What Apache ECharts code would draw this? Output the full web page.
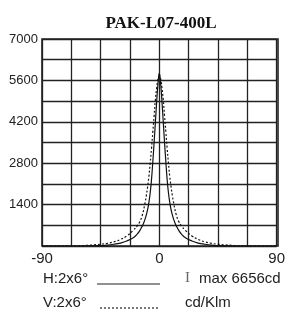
<!DOCTYPE html>
<html>
<head>
<meta charset="utf-8">
<script src="https://cdn.jsdelivr.net/npm/echarts@6/dist/echarts.min.js"></script>
<style>
html,body{margin:0;padding:0;background:#fff;}
#chart{width:288px;height:313px;}
</style>
</head>
<body>
<div id="chart"></div>
<script>
var titleText = 'PAK-L07-400L';
var angleH = [-90,-60,-45,-40,-35,-30,-25,-20,-17,-15,-13,-12,-11,-10,-9,-8,-7,-6,-5,-4,-3,-2,-1,0,1,2,3,4,5,6,7,8,9,10,11,12,13,15,17,20,25,30,35,40,45,60,90];
var valueH = [0,0,10,30,60,100,170,280,400,520,680,780,900,1050,1230,1480,1800,2250,2850,3500,4200,4900,5500,5850,5500,4900,4200,3500,2850,2250,1800,1480,1230,1050,900,780,680,520,400,280,170,100,60,30,10,0,0];
var angleV = [-90,-65,-60,-55,-50,-45,-40,-35,-30,-25,-20,-17,-15,-13,-11,-10,-9,-8,-7,-6,-5,-4,-3,-2,-1,0,1,2,3,4,5,6,7,8,9,10,11,13,15,17,20,25,30,35,40,45,50,55,60,65,90];
var valueV = [0,0,10,25,40,60,90,140,220,340,530,680,820,1050,1450,1700,2000,2350,2800,3300,3850,4400,4950,5350,5650,5750,5650,5350,4950,4400,3850,3300,2800,2350,2000,1700,1450,1050,820,680,530,340,220,140,90,60,40,25,10,0,0];
var yLabels = [1400,2800,4200,5600,7000];
var xLabels = [-90,0,90];

function pairs(a, v) {
    var res = [];
    for (var i = 0; i < a.length; i++) {
        res.push([a[i], v[i]]);
    }
    return res;
}

var chart = echarts.init(document.getElementById('chart'));
var option = {
    animation: false,
    backgroundColor: '#fff',
    title: {
        text: titleText,
        left: 156,
        textAlign: 'center',
        top: 10,
        textStyle: {
            fontFamily: 'Liberation Serif',
            fontWeight: 'bold',
            fontSize: 17,
            color: '#111'
        }
    },
    grid: {
        left: 42,
        right: 10,
        top: 39,
        bottom: 67
    },
    xAxis: {
        type: 'value',
        min: -90,
        max: 90,
        interval: 22.5,
        axisLine: {show: false},
        axisTick: {show: false},
        splitLine: {lineStyle: {color: '#222', width: 1.3}},
        axisLabel: {
            margin: 5,
            fontFamily: 'Liberation Sans',
            fontSize: 15,
            color: '#222',
            formatter: function (v) {
                return xLabels.indexOf(v) >= 0 ? String(v) : '';
            }
        }
    },
    yAxis: {
        type: 'value',
        min: 0,
        max: 7000,
        interval: 700,
        axisLine: {show: false},
        axisTick: {show: false},
        splitLine: {lineStyle: {color: '#222', width: 1.3}},
        axisLabel: {
            margin: 4,
            fontFamily: 'Liberation Sans',
            fontSize: 13,
            color: '#222',
            formatter: function (v) {
                return yLabels.indexOf(v) >= 0 ? String(v) : '';
            }
        }
    },
    series: [
        {
            name: 'H',
            type: 'line',
            smooth: true,
            showSymbol: false,
            data: pairs(angleH, valueH),
            lineStyle: {color: '#111', width: 1.2}
        },
        {
            name: 'V',
            type: 'line',
            smooth: true,
            showSymbol: false,
            data: pairs(angleV, valueV),
            lineStyle: {color: '#111', width: 1.2, type: [2, 2]}
        }
    ],
    graphic: [
        {type: 'rect', shape: {x: 42, y: 39, width: 236, height: 207}, style: {fill: 'none', stroke: '#222', lineWidth: 1.6}},
        {type: 'text', left: 43, top: 271, style: {text: 'H:2x6°', font: '15px "Liberation Sans"', fill: '#222'}},
        {type: 'text', left: 43, top: 295, style: {text: 'V:2x6°', font: '15px "Liberation Sans"', fill: '#222'}},
        {type: 'line', shape: {x1: 97, y1: 284, x2: 160, y2: 284}, style: {stroke: '#222', lineWidth: 1.2}},
        {type: 'line', shape: {x1: 100, y1: 308, x2: 158, y2: 308}, style: {stroke: '#222', lineWidth: 1.2, lineDash: [2, 2]}},
        {type: 'text', left: 185, top: 271, style: {text: 'I', font: '15px "Liberation Serif"', fill: '#666'}},
        {type: 'text', left: 199, top: 271, style: {text: 'max 6656cd', font: '15px "Liberation Sans"', fill: '#222'}},
        {type: 'text', left: 185, top: 295, style: {text: 'cd/Klm', font: '15px "Liberation Sans"', fill: '#222'}}
    ]
};
chart.setOption(option);
</script>
</body>
</html>
